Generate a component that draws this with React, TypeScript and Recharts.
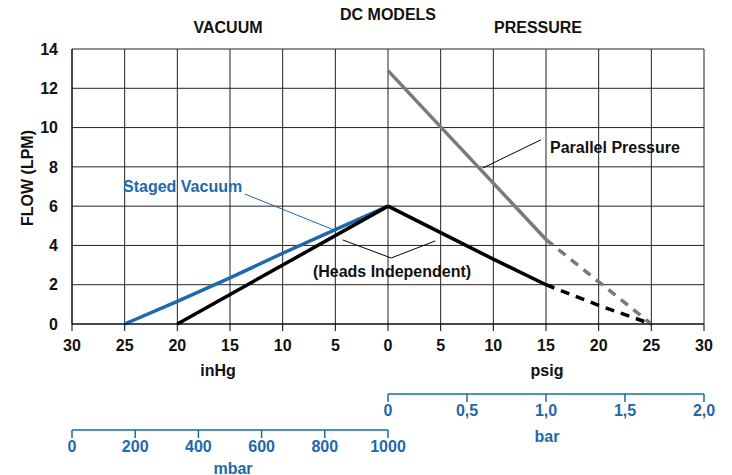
import { LineChart, Line, XAxis, YAxis, CartesianGrid, ReferenceLine } from 'recharts';

// gauge readings: negative x = vacuum (inHg), positive x = pressure (psig)
const xTicks = [-30, -25, -20, -15, -10, -5, 0, 5, 10, 15, 20, 25, 30];
const yTicks = [0, 2, 4, 6, 8, 10, 12, 14];

const stagedVacuum = [
  { x: -25, y: 0 },
  { x: -20, y: 1.15 },
  { x: -15, y: 2.35 },
  { x: -10, y: 3.6 },
  { x: -5, y: 4.8 },
  { x: 0, y: 6 },
];
const headsVacuum = [
  { x: -20, y: 0 },
  { x: 0, y: 6 },
];
const headsPressure = [
  { x: 0, y: 6 },
  { x: 5, y: 4.65 },
  { x: 10, y: 3.3 },
  { x: 15, y: 2 },
];
const headsPressureExt = [
  { x: 15, y: 2 },
  { x: 20, y: 0.95 },
  { x: 25, y: 0 },
];
const parallelPressure = [
  { x: 0, y: 12.9 },
  { x: 15, y: 4.3 },
];
const parallelPressureExt = [
  { x: 15, y: 4.3 },
  { x: 20, y: 2.15 },
  { x: 25, y: 0 },
];

const barTicks = [0, 0.5, 1, 1.5, 2];
const mbarTicks = [0, 200, 400, 600, 800, 1000];

const BLUE = '#1f68ad';
const GREY = '#7a7a7a';
const FONT = '"Liberation Sans", Arial, Helvetica, sans-serif';

const tickStyle = { fontFamily: FONT, fontSize: 16, fontWeight: 700, fill: '#111' };
const blueTick = { fontFamily: FONT, fontSize: 16, fontWeight: 700, fill: BLUE };

function ScaleChart({ ticks, left, right, top, format }: { ticks: number[]; left: number; right: number; top: number; format: (v: number) => string }) {
  const data = ticks.map(v => ({ v }));
  return (
    <div style={{ position: 'absolute', left: 0, top }}>
      <LineChart width={732} height={60} data={data} margin={{ top: 0, right, left, bottom: 0 }}>
        <XAxis
          dataKey="v"
          type="number"
          domain={[ticks[0], ticks[ticks.length - 1]]}
          ticks={ticks}
          interval={0}
          height={45}
          stroke={BLUE}
          strokeWidth={1.5}
          tickSize={8}
          tickMargin={3}
          tick={blueTick}
          tickFormatter={format}
        />
      </LineChart>
    </div>
  );
}

export default function App() {
  const t = { fontFamily: FONT, fontWeight: 700 };
  return (
    <div style={{ position: 'absolute', left: 0, top: 0, width: 732, height: 475, background: '#fff' }}>
      <LineChart width={732} height={475} margin={{ top: 49, right: 28, left: 0, bottom: 106 }}>
        <CartesianGrid stroke="#222" strokeWidth={1} />
        <XAxis
          dataKey="x"
          type="number"
          domain={[-30, 30]}
          ticks={xTicks}
          interval={0}
          height={45}
          stroke="#000"
          tickSize={7}
          tickMargin={9}
          tick={tickStyle}
          tickFormatter={(v: number) => String(Math.abs(v))}
        />
        <YAxis
          type="number"
          domain={[0, 14]}
          ticks={yTicks}
          interval={0}
          width={72}
          stroke="#000"
          tickSize={0}
          tickMargin={14}
          tick={tickStyle}
        />
        <ReferenceLine segment={[{ x: -13.6, y: 6.62 }, { x: -5.2, y: 4.8 }]} stroke={BLUE} strokeWidth={1} />
        <ReferenceLine segment={[{ x: -4.3, y: 4.28 }, { x: 0.3, y: 3.36 }]} stroke="#000" strokeWidth={1} />
        <ReferenceLine segment={[{ x: 0.3, y: 3.36 }, { x: 4.5, y: 4.23 }]} stroke="#000" strokeWidth={1} />
        <ReferenceLine segment={[{ x: 14.5, y: 9.37 }, { x: 9.0, y: 7.94 }]} stroke="#000" strokeWidth={1} />
        <Line data={stagedVacuum} dataKey="y" stroke={BLUE} strokeWidth={3.5} dot={false} isAnimationActive={false} />
        <Line data={parallelPressure} dataKey="y" stroke={GREY} strokeWidth={3.5} dot={false} isAnimationActive={false} />
        <Line data={parallelPressureExt} dataKey="y" stroke={GREY} strokeWidth={3.5} strokeDasharray="9 7" dot={false} isAnimationActive={false} />
        <Line data={headsVacuum} dataKey="y" stroke="#000" strokeWidth={3.5} dot={false} isAnimationActive={false} />
        <Line data={headsPressure} dataKey="y" stroke="#000" strokeWidth={3.5} dot={false} isAnimationActive={false} />
        <Line data={headsPressureExt} dataKey="y" stroke="#000" strokeWidth={3.5} strokeDasharray="9 7" dot={false} isAnimationActive={false} />
      </LineChart>

      <ScaleChart ticks={barTicks} left={388} right={28} top={379} format={(v) => (v === 0 ? '0' : v.toFixed(1).replace('.', ','))} />
      <ScaleChart ticks={mbarTicks} left={72} right={344} top={415} format={(v) => String(v)} />

      <svg width={732} height={475} style={{ position: 'absolute', left: 0, top: 0, pointerEvents: 'none' }}>
        <g style={t} fontSize={16} textAnchor="middle" dominantBaseline="central">
          <text x={388} y={14} fill="#111">DC MODELS</text>
          <text x={228} y={27} fill="#111">VACUUM</text>
          <text x={538} y={27} fill="#111">PRESSURE</text>
          <text x={218} y={370} fill="#111">inHg</text>
          <text x={547} y={370} fill="#111">psig</text>
          <text x={547} y={436} fill={BLUE}>bar</text>
          <text x={233} y={468} fill={BLUE}>mbar</text>
          <text x={27} y={178} fill="#111" transform="rotate(-90 27 178)">FLOW (LPM)</text>
          <text x={392} y={271} fill="#111">(Heads Independent)</text>
        </g>
        <g style={t} fontSize={16} dominantBaseline="central">
          <text x={123} y={186} fill={BLUE}>Staged Vacuum</text>
          <text x={550} y={147} fill="#111">Parallel Pressure</text>
        </g>
      </svg>
    </div>
  );
}
